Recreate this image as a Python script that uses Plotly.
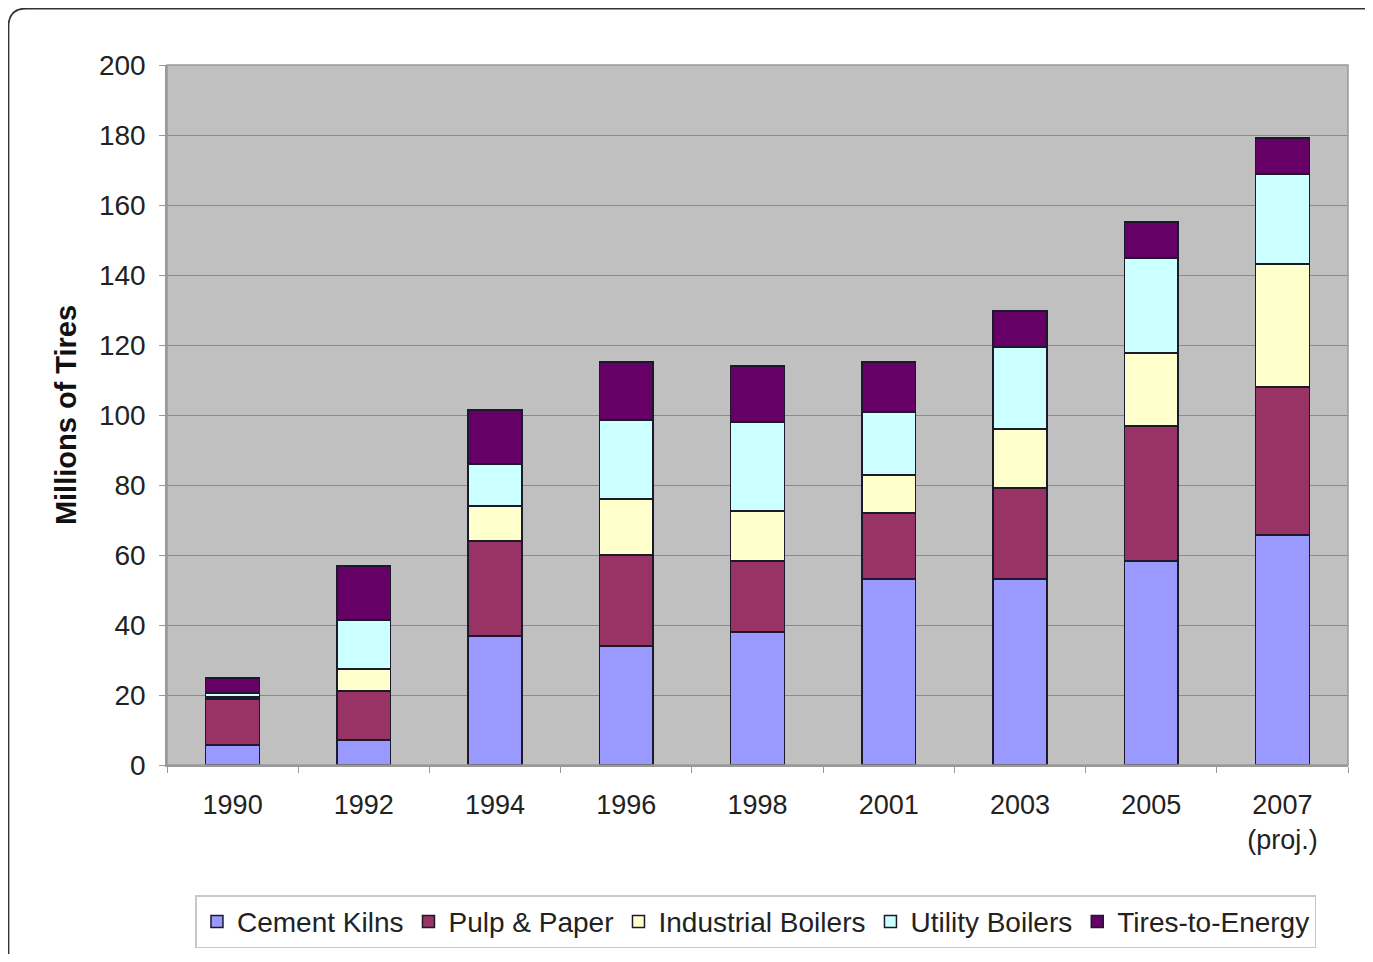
import plotly.graph_objects as go

years = ["1990", "1992", "1994", "1996", "1998", "2001", "2003", "2005", "2007<br>(proj.)"]
cement_kilns = [5.7, 7.1, 36.9, 34.0, 38.0, 53.1, 53.1, 58.3, 65.7]
pulp_paper = [13.2, 14.0, 27.1, 26.0, 20.3, 18.9, 26.0, 38.6, 42.3]
industrial_boilers = [0.5, 6.3, 10.0, 16.0, 14.3, 10.9, 16.9, 20.8, 35.1]
utility_boilers = [1.2, 14.0, 12.0, 22.6, 25.4, 18.0, 23.4, 27.2, 25.8]
tires_to_energy = [4.3, 15.5, 15.4, 16.5, 16.0, 14.2, 10.3, 10.2, 10.2]

series = [
    ("Cement Kilns", cement_kilns, "#9999FF"),
    ("Pulp & Paper", pulp_paper, "#993366"),
    ("Industrial Boilers", industrial_boilers, "#FFFFCC"),
    ("Utility Boilers", utility_boilers, "#CCFFFF"),
    ("Tires-to-Energy", tires_to_energy, "#660066"),
]

fig = go.Figure()
for name, vals, col in series:
    fig.add_trace(go.Bar(
        x=years, y=vals, name=name,
        marker=dict(color=col, line=dict(color="#1a1a2a", width=1.5)),
    ))

# figure is drawn inside an 8px page margin
W, H = 1357, 946
L, R, T, B = 159, 1340, 57, 757
pw, ph = R - L, B - T

def px(x):
    return (x - L) / pw

def py(y):
    return (B - y) / ph

# outer rounded frame
x0, y0, x1, y1, r = 0.5, 0.5, 1380, 975, 18
path = (f"M {px(x0+r)},{py(y0)} L {px(x1)},{py(y0)} L {px(x1)},{py(y1)} "
        f"L {px(x0)},{py(y1)} L {px(x0)},{py(y0+r)} "
        f"Q {px(x0)},{py(y0)} {px(x0+r)},{py(y0)} Z")

FONT = "Liberation Sans, Arial, sans-serif"

fig.update_layout(
    width=W, height=H,
    barmode="stack",
    bargap=0.59,
    paper_bgcolor="white",
    plot_bgcolor="#C0C0C0",
    margin=dict(l=L, r=W - R, t=T, b=H - B, autoexpand=False),
    font=dict(family=FONT, size=26, color="#222222"),
    showlegend=True,
    legend=dict(
        orientation="h", x=0.4987, xanchor="center", y=-0.186, yanchor="top",
        bordercolor="#c8c8c8", borderwidth=1.5, bgcolor="white",
        font=dict(size=28, color="#222222"),
        itemwidth=30, traceorder="normal",
    ),
    xaxis=dict(
        type="category",
        showgrid=False,
        tickson="boundaries",
        ticks="outside", ticklen=6, tickcolor="#999999",
        showline=True, linecolor="#999999", linewidth=1.5,
        tickfont=dict(size=27, color="#222222"),
        ticklabelstandoff=15,
    ),
    yaxis=dict(
        range=[0, 200], dtick=20,
        showgrid=True, gridcolor="#8a8a8a", gridwidth=1,
        ticks="outside", ticklen=6, tickcolor="#999999",
        showline=True, linecolor="#999999", linewidth=1.5,
        tickfont=dict(size=28, color="#222222"),
        ticklabelstandoff=8,
        zeroline=False,
        title=dict(text="<b>Millions of Tires</b>", font=dict(size=29, color="#111111"), standoff=14),
    ),
    shapes=[
        dict(type="path", path=path, xref="paper", yref="paper",
             line=dict(color="#333333", width=1.8), layer="below"),
        dict(type="rect", x0=0, x1=1, y0=0, y1=1, xref="paper", yref="paper",
             line=dict(color="#999999", width=1.5), layer="above"),
    ],
)

fig.write_html("out.html")
